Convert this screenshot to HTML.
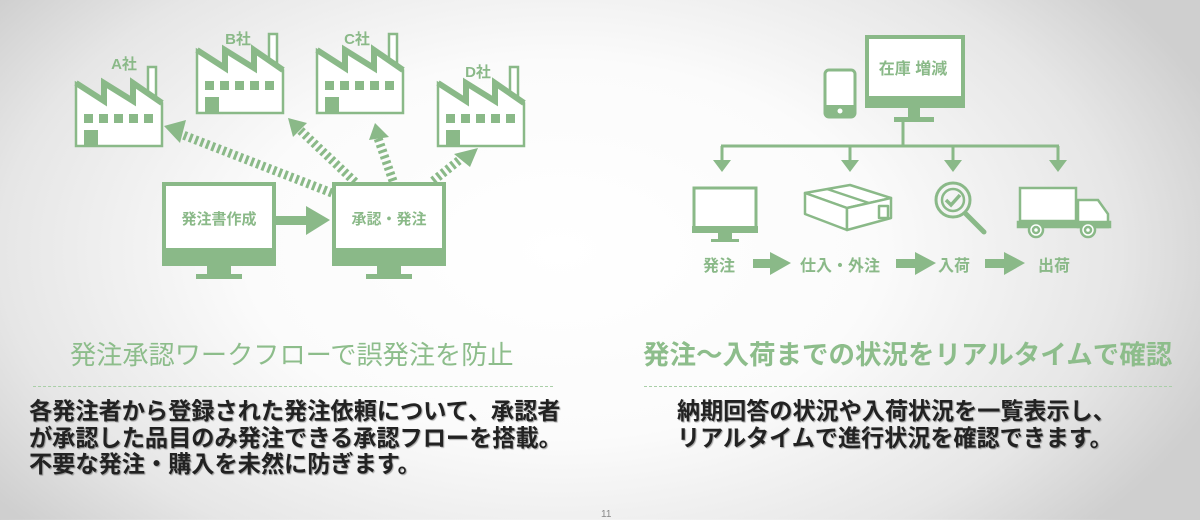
<!DOCTYPE html>
<html><head><meta charset="utf-8"><style>
html,body{margin:0;padding:0}
body{width:1200px;height:519px;overflow:hidden;position:relative;
background:radial-gradient(ellipse 700px 420px at 560px 250px,#ffffff 0%,#fbfbfb 45%,#e6e6e6 80%,#cfcfcf 100%);
font-family:"Liberation Sans","Noto Sans CJK JP",sans-serif}
.t{position:absolute;white-space:nowrap}
.h{color:#8dbd8b;font-size:26.2px;line-height:30px}
.b{color:#222;font-size:23.2px;font-weight:bold;line-height:26.5px;text-shadow:1px 1px 1px rgba(0,0,0,.35)}
.dl{position:absolute;height:0;border-top:1.5px dashed #a9cfa7}
</style></head><body>
<svg width="1200" height="519" style="position:absolute;left:0;top:0">
<defs>
<g id="fac">
<rect x="72" y="-16" width="8" height="30" fill="#fff" stroke="#8ab988" stroke-width="2.5"/>
<path d="M0,0 L28,18 L28,0 L57,18 L57,0 L86,20 L86,63 L0,63 Z" fill="#fff" stroke="#8ab988" stroke-width="2.5"/>
<polyline points="0,0 28,18 28,0 57,18 57,0 86,20" fill="none" stroke="#8ab988" stroke-width="6"/>
<g fill="#8ab988"><rect x="8" y="31" width="9" height="9"/><rect x="23" y="31" width="9" height="9"/><rect x="38" y="31" width="9" height="9"/><rect x="53" y="31" width="9" height="9"/><rect x="68" y="31" width="9" height="9"/><rect x="8" y="47" width="14" height="16"/></g>
</g>
<g id="mon">
<rect x="2" y="2" width="110" height="80" fill="#fff" stroke="#8ab988" stroke-width="4"/>
<rect x="0" y="66" width="114" height="18" fill="#8ab988"/>
<rect x="45" y="84" width="24" height="8" fill="#8ab988"/>
<rect x="34" y="92" width="46" height="5" fill="#8ab988"/>
</g>
</defs>
<g fill="#8ab988" font-weight="bold" font-size="15" text-anchor="middle">
<text x="124" y="69">A社</text><text x="238" y="44">B社</text><text x="357" y="44">C社</text><text x="478" y="77">D社</text>
</g>
<use href="#fac" x="76" y="83"/>
<use href="#fac" x="197" y="50"/>
<use href="#fac" x="317" y="50"/>
<use href="#fac" x="438" y="83"/>
<g stroke="#8ab988" stroke-width="9" stroke-dasharray="3 3" fill="none">
<line x1="332" y1="193" x2="178" y2="133"/>
<line x1="355" y1="182" x2="300" y2="130"/>
<line x1="393" y1="181" x2="378" y2="138"/>
<line x1="433" y1="181" x2="462" y2="158"/>
</g>
<g fill="#8ab988">
<polygon points="164,126 186,120 180,143"/>
<polygon points="288,118 307,123 293,137"/>
<polygon points="375,123 389,137 369,140"/>
<polygon points="478,148 470,167 454,154"/>
</g>
<use href="#mon" x="162" y="182"/>
<use href="#mon" x="332" y="182"/>
<rect x="276" y="216" width="32" height="9" fill="#8ab988"/>
<polygon points="306,206 330,220 306,235" fill="#8ab988"/>
<g fill="#8ab988" font-weight="bold" font-size="15" text-anchor="middle">
<text x="219" y="224">発注書作成</text><text x="389" y="224">承認・発注</text>
</g>
<rect x="867" y="37" width="96" height="69" fill="#fff" stroke="#8ab988" stroke-width="4"/>
<rect x="865" y="96" width="100" height="12" fill="#8ab988"/>
<rect x="908" y="108" width="12" height="10" fill="#8ab988"/>
<rect x="894" y="117" width="40" height="5" fill="#8ab988"/>
<text x="913" y="74" fill="#8ab988" font-weight="bold" font-size="16" text-anchor="middle">在庫 増減</text>
<rect x="825" y="70" width="30" height="47" rx="4" fill="#fff" stroke="#8ab988" stroke-width="3"/>
<rect x="825" y="105" width="30" height="12" fill="#8ab988"/><circle cx="840" cy="111" r="2.5" fill="#fff"/>
<g stroke="#8ab988" stroke-width="3" fill="none">
<line x1="903" y1="122" x2="903" y2="147"/>
<line x1="721" y1="146" x2="1059" y2="146"/>
<line x1="722" y1="146" x2="722" y2="160"/><line x1="850" y1="146" x2="850" y2="160"/>
<line x1="953" y1="146" x2="953" y2="160"/><line x1="1058" y1="146" x2="1058" y2="160"/>
</g>
<g fill="#8ab988">
<polygon points="713,160 731,160 722,172"/><polygon points="841,160 859,160 850,172"/>
<polygon points="944,160 962,160 953,172"/><polygon points="1049,160 1067,160 1058,172"/>
</g>
<rect x="694" y="188" width="62" height="40" fill="#fff" stroke="#8ab988" stroke-width="3"/>
<rect x="692" y="226" width="66" height="7" fill="#8ab988"/>
<rect x="718" y="233" width="14" height="6" fill="#8ab988"/>
<rect x="711" y="239" width="28" height="3" fill="#8ab988"/>
<g stroke="#8ab988" stroke-width="2.5" fill="#fff" stroke-linejoin="round">
<polygon points="805,193 850,185 891,198 847,208"/>
<polygon points="805,193 847,208 847,230 805,214"/>
<polygon points="847,208 891,198 891,218 847,230"/>
<line x1="827" y1="189" x2="869" y2="203"/>
<rect x="879" y="206" width="9" height="12"/>
</g>
<g stroke="#8ab988" fill="none">
<circle cx="953" cy="200" r="17" stroke-width="3"/>
<circle cx="953" cy="200" r="11" stroke-width="2.5"/>
<polyline points="946,200 951,205 960,195" stroke-width="3.5"/>
<line x1="966" y1="214" x2="984" y2="232" stroke-width="5" stroke-linecap="round"/>
</g>
<g stroke="#8ab988" stroke-width="2.5" fill="#fff">
<rect x="1020" y="188" width="56" height="33"/>
<path d="M1078,200 L1098,200 L1108,214 L1108,227 L1078,227 Z"/>
<rect x="1018" y="222" width="92" height="5" fill="#8ab988"/>
<circle cx="1036" cy="230" r="7"/><circle cx="1036" cy="230" r="3"/>
<circle cx="1088" cy="230" r="7"/><circle cx="1088" cy="230" r="3"/>
</g>
<g fill="#8ab988" font-weight="bold" font-size="16">
<text x="703" y="271">発注</text><text x="800" y="271">仕入・外注</text><text x="938" y="271">入荷</text><text x="1038" y="271">出荷</text>
<rect x="753" y="259" width="18" height="9"/><polygon points="770,252 791,263 770,275"/>
<rect x="896" y="259" width="20" height="9"/><polygon points="915,252 936,263 915,275"/>
<rect x="985" y="259" width="20" height="9"/><polygon points="1004,252 1025,263 1004,275"/>
</g>
</svg>
<div class="t h" style="left:70px;top:340px">発注承認ワークフローで誤発注を防止</div>
<div class="t h" style="left:643px;top:340px;font-size:26.5px;font-weight:bold">発注〜入荷までの状況をリアルタイムで確認</div>
<div class="dl" style="left:33px;top:386px;width:520px"></div>
<div class="dl" style="left:644px;top:386px;width:528px"></div>
<div class="t b" style="left:29px;top:398px">各発注者から登録された発注依頼について、承認者<br>が承認した品目のみ発注できる承認フローを搭載。<br>不要な発注・購入を未然に防ぎます。</div>
<div class="t b" style="left:677px;top:398px;font-size:23.1px">納期回答の状況や入荷状況を一覧表示し、<br>リアルタイムで進行状況を確認できます。</div>
<div class="t" style="left:601px;top:509px;font-size:10px;color:#888">11</div>
</body></html>
